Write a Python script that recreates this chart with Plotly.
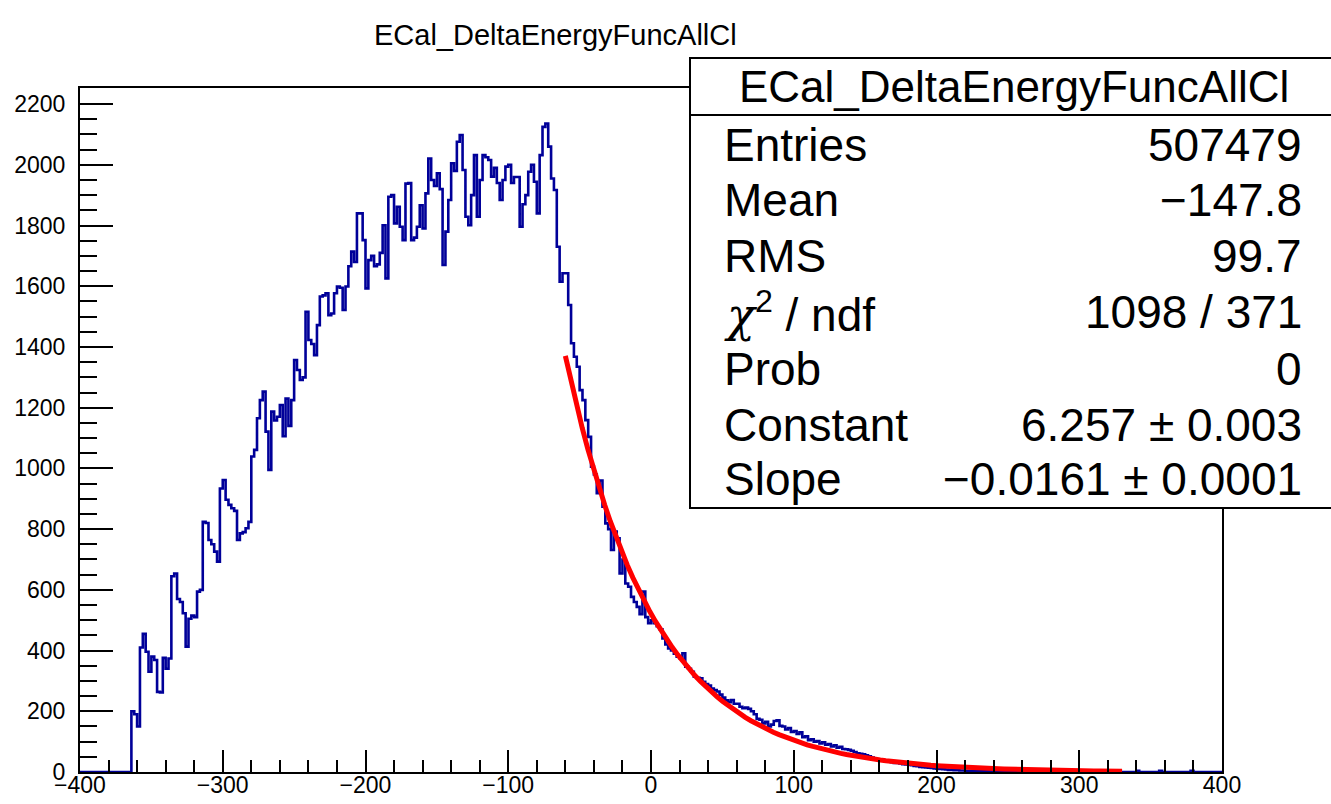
import numpy as np
import plotly.graph_objects as go

# ---- histogram content -------------------------------------------------
HIST_NAME = "ECal_DeltaEnergyFuncAllCl"
BIN_LOW = -400          # lower edge of the first bin
BIN_WIDTH = 2           # width of every bin

# bin contents, one value per bin starting at BIN_LOW
counts = [0] * 18 + [
    200, 190, 150, 410, 455, 396, 330, 380, 369, 264,
    262, 376, 340, 374, 645, 654, 570, 560, 523, 413,
    505, 515, 510, 594, 600, 824, 820, 764, 750, 726,
    693, 934, 962, 897, 880, 869, 860, 764, 786, 790,
    803, 824, 1039, 1061, 1165, 1225, 1253, 1121, 995, 1187,
    1158, 1170, 1209, 1106, 1230, 1140, 1225, 1357, 1324, 1291,
    1300, 1516, 1423, 1410, 1373, 1472, 1566, 1570, 1577, 1505,
    1510, 1577, 1599, 1595, 1522, 1599, 1666, 1714, 1680, 1840,
    1840, 1752, 1593, 1686, 1700, 1666, 1672, 1710, 1801, 1626,
    1895, 1900, 1807, 1862, 1796, 1752, 1938, 1940, 1752, 1760,
    1796, 1867, 1790, 1906, 2021, 1950, 1930, 1972, 1920, 1670,
    1780, 1884, 2005, 1980, 2076, 2098, 1983, 1829, 1801, 1900,
    2032, 1829, 1950, 2032, 2025, 2016, 1961, 1990, 1940, 1884,
    1950, 1994, 2000, 1940, 1960, 1960, 1796, 1870, 1900, 1977,
    2000, 1944, 1840, 2032, 2125, 2136, 2060, 1955, 1917, 1730,
    1615, 1643, 1643, 1538, 1412, 1368, 1335, 1258, 1225, 1159,
    1104, 1006, 980, 918, 960, 874, 819, 800, 731, 792,
    770, 654, 700, 621, 610, 577, 560, 544, 520, 594,
    510, 490, 500, 490, 480, 470, 440, 420, 407, 400,
    390, 380, 375, 391, 347, 340, 330, 314, 310, 309,
    297, 290, 285, 275, 270, 265, 255, 245, 236, 230,
    237, 225, 225, 215, 210, 212, 208, 200, 190, 175,
    172, 160, 165, 150, 156, 168, 170, 152, 150, 140,
    145, 132, 135, 125, 131, 115, 118, 105, 108, 100,
    102, 94, 98, 90, 92, 84, 88, 80, 83, 76,
    75, 73, 70, 66, 62, 60, 58, 55, 52, 48,
    45, 42, 41, 38, 36, 34, 32, 30, 30, 28,
    26, 25, 24, 22, 20, 19, 17, 16, 15, 14,
    13, 12, 11, 10, 9, 8, 7, 7, 6, 6,
    5, 5, 4, 4, 3, 3, 3, 2, 2, 2,
    2, 1, 2, 1, 1, 1, 2, 1, 1, 0,
    1, 1, 0, 1, 0, 1, 0, 1, 0, 1,
    0, 0, 1, 0, 0, 1, 0, 0, 1, 0,
    0, 1, 0, 0, 0, 1, 0, 0, 0, 1,
    0, 0, 0, 0, 1, 0, 0, 0, 0, 0,
    0, 0, 4, 0, 0, 0, 0, 0, 0, 0,
    4, 0, 0, 0, 0, 0, 0, 0, 0, 0,
    0, 4, 0, 0, 0, 0, 0, 0, 0, 0,
    0, 0,
]

# ---- exponential fit: exp(Constant + Slope * x) ------------------------
FIT_CONSTANT = 6.257
FIT_SLOPE = -0.0161
FIT_XMIN, FIT_XMAX = -60, 330
FIT_NPX = 100

# ---- statistics box ----------------------------------------------------
CHI = '<span style="font-family:DejaVu Serif;font-style:italic">χ</span>'
stat_names = ["Entries", "Mean", "RMS", CHI + "<sup>2</sup> / ndf", "Prob",
              "Constant", "Slope"]
stat_values = ["507479", "−147.8", "99.7", "1098 / 371", "0",
               "6.257 ± 0.003", "−0.0161 ± 0.0001"]

# ---- axes ----------------------------------------------------------------
X_RANGE = [-400, 400]
Y_RANGE = [0, 2253]

FONT = "Liberation Sans, Arial, Helvetica, sans-serif"
HIST_COLOR = "#000099"
FIT_COLOR = "#ff0000"

# step outline of the histogram
edges = BIN_LOW + BIN_WIDTH * np.arange(len(counts) + 1)
step_y = list(counts) + [counts[-1]]

fit_x = np.linspace(FIT_XMIN, FIT_XMAX, FIT_NPX)
fit_y = np.exp(FIT_CONSTANT + FIT_SLOPE * fit_x)

fig = go.Figure()
fig.add_trace(go.Scatter(
    x=edges, y=step_y, mode="lines", line_shape="hv",
    line=dict(color=HIST_COLOR, width=2.6), hoverinfo="skip",
    showlegend=False,
))
fig.add_trace(go.Scatter(
    x=fit_x, y=fit_y, mode="lines",
    line=dict(color=FIT_COLOR, width=5), hoverinfo="skip",
    showlegend=False,
))

W, H = 1331, 804
ML, MR, MT, MB = 80, 109, 88, 32
plot_w = W - ML - MR
plot_h = H - MT - MB


def px_x(px):
    """Canvas pixel column -> paper x."""
    return (px - ML) / plot_w


def px_y(py):
    """Canvas pixel row -> paper y."""
    return (H - MB - py) / plot_h


axis_common = dict(
    showline=True, linewidth=2, linecolor="black", mirror=True,
    showgrid=False, zeroline=False, automargin=False,
    ticks="inside", tickwidth=2, tickcolor="black",
    tickfont=dict(family=FONT, size=23, color="black"),
)

fig.update_xaxes(
    range=X_RANGE, tick0=0, dtick=100, ticklen=22,
    minor=dict(dtick=20, ticks="inside", ticklen=12, tickwidth=2,
               tickcolor="black", showgrid=False),
    ticklabelstandoff=-9,
    **axis_common,
)
fig.update_yaxes(
    range=Y_RANGE, tick0=0, dtick=200, ticklen=33,
    minor=dict(dtick=50, ticks="inside", ticklen=17, tickwidth=2,
               tickcolor="black", showgrid=False),
    ticklabelstandoff=8,
    **axis_common,
)

shapes = [
    # statistics box with its header separator
    dict(type="rect", xref="paper", yref="paper",
         x0=px_x(690), x1=px_x(1334), y0=px_y(508), y1=px_y(58),
         line=dict(color="black", width=2), fillcolor="white", layer="above"),
    dict(type="line", xref="paper", yref="paper",
         x0=px_x(690), x1=px_x(1334), y0=px_y(115), y1=px_y(115),
         line=dict(color="black", width=2), layer="above"),
]

annotations = [
    dict(text=HIST_NAME, xref="paper", yref="paper",
         x=px_x(555), y=px_y(35), xanchor="center", yanchor="middle",
         showarrow=False, font=dict(family=FONT, size=29, color="black")),
    dict(text=HIST_NAME, xref="paper", yref="paper",
         x=px_x(1014), y=px_y(87), xanchor="center", yanchor="middle",
         showarrow=False, font=dict(family=FONT, size=44, color="black")),
]

row_y = [145, 200, 256, 312, 369, 425, 479]
for name, value, ry in zip(stat_names, stat_values, row_y):
    annotations.append(dict(
        text=name, xref="paper", yref="paper", x=px_x(722), y=px_y(ry),
        xanchor="left", yanchor="middle", showarrow=False,
        font=dict(family=FONT, size=46, color="black")))
    annotations.append(dict(
        text=value, xref="paper", yref="paper", x=px_x(1304), y=px_y(ry),
        xanchor="right", yanchor="middle", showarrow=False,
        font=dict(family=FONT, size=46, color="black")))

fig.update_layout(
    width=W, height=H, autosize=False,
    margin=dict(l=ML, r=MR, t=MT, b=MB, pad=0),
    paper_bgcolor="white", plot_bgcolor="white",
    shapes=shapes, annotations=annotations,
    font=dict(family=FONT, color="black"),
)

fig.write_html("out.html")
